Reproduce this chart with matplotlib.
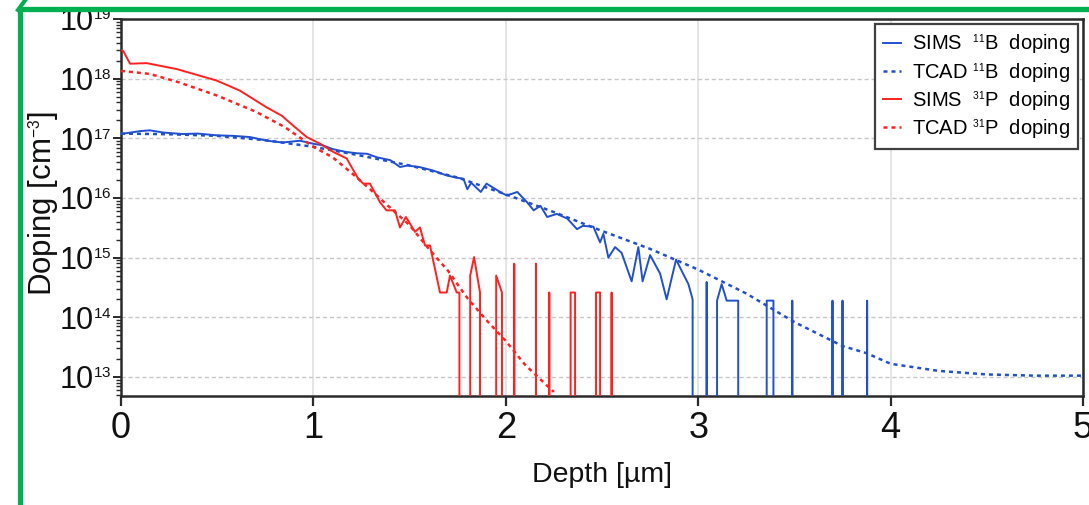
import numpy as np
import matplotlib
matplotlib.use("Agg")
import matplotlib.pyplot as plt
import matplotlib._mathtext as _mt
from matplotlib.lines import Line2D
from matplotlib.ticker import LogLocator, NullFormatter, FixedLocator

_mt.SHRINK_FACTOR = 0.5

plt.rcParams['font.family'] = ['Liberation Sans', 'DejaVu Sans']
plt.rcParams['mathtext.fontset'] = 'custom'
plt.rcParams['mathtext.rm'] = 'Liberation Sans'
plt.rcParams['mathtext.it'] = 'Liberation Sans:italic'
plt.rcParams['mathtext.bf'] = 'Liberation Sans:bold'
plt.rcParams['mathtext.default'] = 'regular'

# ---------------- data (depth in um, doping in cm^-3) ----------------
sims_b_depth = [0.00, 0.05, 0.10, 0.15, 0.22, 0.32, 0.40, 0.50, 0.58, 0.67, 0.76, 0.84, 0.93, 1.00,
                1.05, 1.10, 1.17, 1.23, 1.28, 1.33, 1.40, 1.45, 1.49, 1.55, 1.62, 1.69, 1.74, 1.78,
                1.80, 1.82, 1.87, 1.90, 1.97, 2.005, 2.06, 2.11, 2.145, 2.18, 2.215, 2.265, 2.32,
                2.37, 2.40, 2.455, 2.49, 2.507, 2.533, 2.568, 2.602, 2.654, 2.689, 2.711, 2.75,
                2.802, 2.836, 2.885, 2.914, 2.949, 2.971, 2.976,
                3.039, 3.044, 3.049, 3.094, 3.098, 3.122, 3.148, 3.208, 3.212,
                3.352, 3.356, 3.391, 3.395, 3.484, 3.489, 3.494, 3.693, 3.698, 3.703,
                3.745, 3.75, 3.755, 3.873, 3.878, 3.883, 5.00]
sims_b_dop = [1.18e17, 1.25e17, 1.32e17, 1.36e17, 1.25e17, 1.18e17, 1.20e17, 1.12e17, 1.10e17, 1.05e17,
              9.1e16, 8.5e16, 9.1e16, 8.1e16, 7.6e16, 6.6e16, 5.9e16, 5.6e16, 5.5e16, 4.8e16,
              4.3e16, 3.3e16, 3.5e16, 3.3e16, 2.9e16, 2.4e16, 2.2e16, 2.1e16, 1.4e16, 1.8e16,
              1.26e16, 1.74e16, 1.26e16, 1.1e16, 1.26e16, 8.5e15, 6.2e15, 7.4e15, 4.8e15, 5.4e15,
              4.5e15, 3.0e15, 3.4e15, 3.3e15, 1.8e15, 2.5e15, 1.0e15, 1.5e15, 1.2e15, 4.0e14,
              1.5e15, 4.0e14, 1.1e15, 5.4e14, 2.0e14, 9.3e14, 6.0e14, 3.6e14, 2.0e14, 0.0,
              0.0, 3.9e14, 0.0, 0.0, 1.9e14, 3.6e14, 1.9e14, 1.9e14, 0.0,
              0.0, 1.9e14, 1.9e14, 0.0, 0.0, 1.9e14, 0.0, 0.0, 1.9e14, 0.0,
              0.0, 1.9e14, 0.0, 0.0, 1.9e14, 0.0, 0.0]

tcad_b_depth = [0.00, 0.25, 0.50, 0.75, 1.00, 1.25, 1.50, 1.75, 2.00, 2.25, 2.50, 2.75, 3.00,
                3.25, 3.50, 3.75, 3.875, 4.00, 4.25, 4.50, 4.75, 5.00]
tcad_b_dop = [1.20e17, 1.17e17, 1.10e17, 9.3e16, 7.2e16, 5.1e16, 3.5e16, 2.2e16, 1.15e16, 5.8e15,
              2.8e15, 1.4e15, 6.3e14, 2.5e14, 8.3e13, 3.3e13, 2.5e13, 1.66e13, 1.26e13, 1.10e13,
              1.05e13, 1.05e13]

sims_p_depth = [0.00, 0.012, 0.047, 0.133, 0.289, 0.41, 0.497, 0.618, 0.757, 0.835, 0.896, 0.965,
                1.035, 1.104, 1.173, 1.233, 1.259, 1.294, 1.346, 1.38, 1.424, 1.45, 1.481, 1.528,
                1.554, 1.58, 1.606, 1.658, 1.693, 1.71, 1.745, 1.759, 1.764,
                1.808, 1.815, 1.835, 1.866, 1.871, 1.945, 1.95, 1.98, 1.985,
                2.039, 2.044, 2.049, 2.152, 2.157, 2.162, 2.221, 2.226, 2.231,
                2.333, 2.337, 2.36, 2.364, 2.465, 2.469, 2.49, 2.494, 2.545, 2.55, 2.555, 5.00]
sims_p_dop = [3.0e18, 2.9e18, 1.78e18, 1.82e18, 1.45e18, 1.12e18, 9.3e17, 6.3e17, 3.3e17, 2.4e17,
              1.62e17, 1.05e17, 8.1e16, 5.9e16, 4.6e16, 2.1e16, 1.74e16, 1.74e16, 8.5e15, 6.2e15,
              6.2e15, 3.2e15, 4.8e15, 2.7e15, 3.2e15, 1.6e15, 1.6e15, 2.6e14, 2.6e14, 5.0e14,
              2.6e14, 2.6e14, 0.0,
              0.0, 5.0e14, 1.02e15, 2.6e14, 0.0, 0.0, 5.0e14, 2.6e14, 0.0,
              0.0, 7.9e14, 0.0, 0.0, 7.9e14, 0.0, 0.0, 2.6e14, 0.0,
              0.0, 2.6e14, 2.6e14, 0.0, 0.0, 2.6e14, 2.6e14, 0.0, 0.0, 2.6e14, 0.0, 0.0]

tcad_p_depth = [0.00, 0.15, 0.30, 0.50, 0.70, 0.85, 1.00, 1.10, 1.20, 1.30, 1.40, 1.50, 1.60,
                1.70, 1.80, 1.90, 2.00, 2.10, 2.20, 2.25]
tcad_p_dop = [1.35e18, 1.20e18, 8.7e17, 5.2e17, 2.8e17, 1.55e17, 7.2e16, 4.8e16, 2.6e16, 1.35e16,
              6.8e15, 3.5e15, 1.4e15, 6.0e14, 2.1e14, 8.9e13, 4.0e13, 1.6e13, 7.9e12, 5.6e12]

labels = [r"SIMS  $^{11}$B  doping", r"TCAD $^{11}$B  doping",
          r"SIMS  $^{31}$P  doping", r"TCAD $^{31}$P  doping"]
x_ticks = [0, 1, 2, 3, 4, 5]

# ---------------- figure ----------------
BLUE = '#2150cf'
RED = '#ff2020'

fig = plt.figure(figsize=(10.89, 5.06), dpi=100)
ax = fig.add_axes([121 / 1089, 1 - 397 / 506, (1083 - 121) / 1089, (397 - 20) / 506])
ax.set_yscale('log', nonpositive='clip')

ax.plot(sims_b_depth, sims_b_dop, color=BLUE, lw=1.4, label=labels[0], zorder=3)
ax.plot(tcad_b_depth, tcad_b_dop, color=BLUE, lw=1.8, ls=(0, (1.6, 1.6)), label=labels[1], zorder=3)
ax.plot(sims_p_depth, sims_p_dop, color=RED, lw=1.4, label=labels[2], zorder=3)
ax.plot(tcad_p_depth, tcad_p_dop, color=RED, lw=1.8, ls=(0, (1.6, 1.6)), label=labels[3], zorder=3)

ax.set_xlim(0, 5)
ax.set_ylim(10 ** 12.68, 1e19)
ax.xaxis.set_major_locator(FixedLocator(x_ticks))
ax.yaxis.set_major_locator(LogLocator(base=10, numticks=20))
ax.yaxis.set_minor_locator(LogLocator(base=10, subs=np.arange(2, 10), numticks=20))
ax.yaxis.set_minor_formatter(NullFormatter())

ax.grid(True, axis='x', which='major', color='#e0e0e0', lw=1.2, ls='-')
ax.grid(True, axis='y', which='major', color='#c8c8c8', lw=1.0, ls=(0, (3, 2)))
ax.set_axisbelow(True)

for s in ax.spines.values():
    s.set_color('#2a2a2a')
    s.set_linewidth(1.8)

ax.tick_params(axis='x', which='major', direction='out', length=7, width=1.6, colors='#2a2a2a',
               labelsize=26, pad=3, labelcolor='#111111')
ax.tick_params(axis='y', which='major', direction='out', length=6, width=1.4, colors='#2a2a2a',
               labelsize=22, pad=1, labelcolor='#111111')
ax.tick_params(axis='y', which='minor', direction='out', length=3.5, width=1.0, colors='#2a2a2a')

ax.set_xlabel('Depth [µm]', fontsize=20.5, color='#111111')
ax.xaxis.set_label_coords(0.5, (397 - 462) / 377)
ax.set_ylabel(r'Doping [cm$^{-3}$]', fontsize=22.5, color='#111111')
ax.yaxis.set_label_coords((62 - 121) / 962, (397 - 203) / 377)

leg = ax.legend(loc='upper right', fontsize=14.5, frameon=True, fancybox=False, framealpha=1,
                edgecolor='#404040', handlelength=0.9, handletextpad=0.55, labelspacing=0.18,
                borderpad=0.4, borderaxespad=0.25)
leg.get_frame().set_linewidth(1.6)

# green highlight frame from the screenshot
GREEN = '#00b050'
fig.add_artist(Line2D([19.5 / 1089, 1.0], [1 - 9.5 / 506, 1 - 9.5 / 506], color=GREEN, lw=3.8,
                      transform=fig.transFigure, solid_capstyle='butt'))
fig.add_artist(Line2D([19.5 / 1089, 19.5 / 1089], [1 - 9.5 / 506, 0.0], color=GREEN, lw=3.8,
                      transform=fig.transFigure, solid_capstyle='butt'))
fig.add_artist(Line2D([18 / 1089, 26 / 1089], [1 - 11 / 506, 1.0], color=GREEN, lw=3.0,
                      transform=fig.transFigure))

fig.savefig('out.png', dpi=100)
